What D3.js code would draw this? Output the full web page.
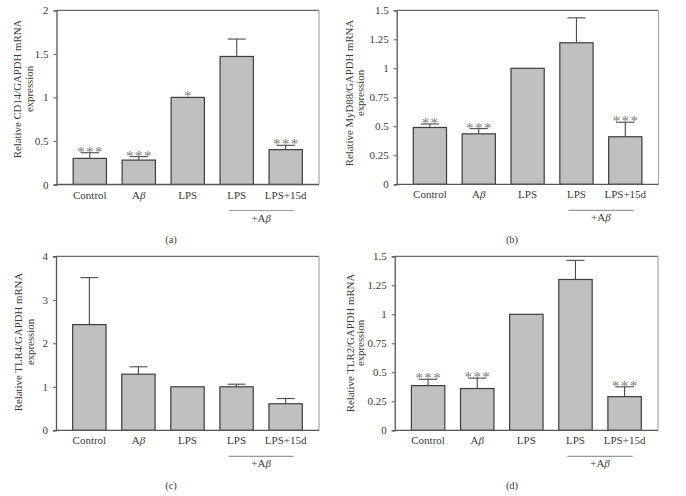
<!DOCTYPE html>
<html>
<head>
<meta charset="utf-8">
<script src="https://cdn.jsdelivr.net/npm/d3@7/dist/d3.min.js"></script>
<style>
  body { margin: 0; background: #fff; }
  svg { display: block; }
  text { font-family: "Liberation Serif", "DejaVu Serif", serif; }
</style>
</head>
<body>
<svg id="chart" width="686" height="496"></svg>
<script>
// ---- data ----
const categories = ["Control", "Aβ", "LPS", "LPS", "LPS+15d"];

const cd14Values = [0.30, 0.28, 1.00, 1.47, 0.40];
const cd14Errors = [0.065, 0.04, 0, 0.20, 0.05];
const cd14Stars  = ["***", "***", "*", "", "***"];
const cd14Ticks  = [0, 0.5, 1, 1.5, 2];

const myd88Values = [0.49, 0.435, 1.00, 1.22, 0.41];
const myd88Errors = [0.03, 0.045, 0, 0.215, 0.125];
const myd88Stars  = ["**", "***", "", "", "***"];
const myd88Ticks  = [0, 0.25, 0.5, 0.75, 1, 1.25, 1.5];

const tlr4Values = [2.43, 1.29, 1.00, 1.00, 0.61];
const tlr4Errors = [1.08, 0.17, 0, 0.06, 0.12];
const tlr4Stars  = ["", "", "", "", ""];
const tlr4Ticks  = [0, 1, 2, 3, 4];

const tlr2Values = [0.385, 0.36, 1.00, 1.30, 0.29];
const tlr2Errors = [0.055, 0.09, 0, 0.165, 0.085];
const tlr2Stars  = ["***", "***", "", "", "***"];
const tlr2Ticks  = [0, 0.25, 0.5, 0.75, 1, 1.25, 1.5];

const panelLetters = ["(a)", "(b)", "(c)", "(d)"];
const yTitles = [
  "Relative CD14/GAPDH mRNA",
  "Relative MyD88/GAPDH mRNA",
  "Relative TLR4/GAPDH mRNA",
  "Relative TLR2/GAPDH mRNA"
];
const yTitle2 = "expression";
const groupLabel = "+Aβ";

// ---- layout ----
const panels = [
  { values: cd14Values, errors: cd14Errors, stars: cd14Stars, ticks: cd14Ticks, max: 2,
    left: 56.5, right: 319, top: 10.3, bottom: 184.5, t1x: 17, t2x: 29, tcy: 89, letterX: 171 },
  { values: myd88Values, errors: myd88Errors, stars: myd88Stars, ticks: myd88Ticks, max: 1.5,
    left: 396.7, right: 658.5, top: 10.3, bottom: 184.3, t1x: 349, t2x: 360, tcy: 93, letterX: 512 },
  { values: tlr4Values, errors: tlr4Errors, stars: tlr4Stars, ticks: tlr4Ticks, max: 4,
    left: 56, right: 319, top: 256.3, bottom: 430.3, t1x: 17.5, t2x: 29.7, tcy: 342, letterX: 171 },
  { values: tlr2Values, errors: tlr2Errors, stars: tlr2Stars, ticks: tlr2Ticks, max: 1.5,
    left: 394.7, right: 658, top: 256.3, bottom: 430.3, t1x: 350, t2x: 360, tcy: 343, letterX: 512 }
];

const svg = d3.select("#chart");
const idx = categories.map((d, i) => i);

panels.forEach((p, pi) => {
  const g = svg.append("g");
  const x = d3.scaleBand().domain(idx).range([p.left, p.right])
    .paddingInner(0.32).paddingOuter(0.34);
  const y = d3.scaleLinear().domain([0, p.max]).range([p.bottom, p.top]);

  // frame top/right (lighter)
  g.append("line").attr("x1", p.left).attr("x2", p.right).attr("y1", p.top).attr("y2", p.top)
    .attr("stroke", "#6a6a6a").attr("stroke-width", 1.2);
  g.append("line").attr("x1", p.right).attr("x2", p.right).attr("y1", p.top).attr("y2", p.bottom)
    .attr("stroke", "#a8a8a8").attr("stroke-width", 1.2);

  // bars
  g.selectAll("rect.bar").data(p.values).join("rect")
    .attr("class", "bar")
    .attr("x", (d, i) => x(i))
    .attr("width", x.bandwidth())
    .attr("y", d => y(d))
    .attr("height", d => y(0) - y(d))
    .attr("fill", "#c0c0c0")
    .attr("stroke", "#3c3c3c")
    .attr("stroke-width", 1.2);

  // error bars (upper only)
  const cap = 9;
  p.values.forEach((v, i) => {
    const e = p.errors[i];
    if (e <= 0) return;
    const cx = x(i) + x.bandwidth() / 2;
    g.append("line").attr("x1", cx).attr("x2", cx).attr("y1", y(v)).attr("y2", y(v + e))
      .attr("stroke", "#4a4a4a").attr("stroke-width", 1.1);
    g.append("line").attr("x1", cx - cap).attr("x2", cx + cap).attr("y1", y(v + e)).attr("y2", y(v + e))
      .attr("stroke", "#4a4a4a").attr("stroke-width", 1.1);
  });

  // significance stars
  p.values.forEach((v, i) => {
    const s = p.stars[i];
    if (!s) return;
    const cx = x(i) + x.bandwidth() / 2;
    g.append("text").attr("x", cx + 0.7).attr("y", y(v + p.errors[i]) + 4)
      .attr("text-anchor", "middle").attr("font-size", 15).attr("letter-spacing", 1.4)
      .attr("fill", "#7a7a7a").text(s);
  });

  // y axis
  const yAxis = d3.axisLeft(y).tickValues(p.ticks).tickSize(3).tickPadding(5)
    .tickFormat(d => String(d));
  const ya = g.append("g").attr("transform", `translate(${p.left},0)`).call(yAxis);
  ya.select(".domain").attr("stroke", "#555").attr("stroke-width", 1.3);
  ya.selectAll(".tick line").attr("stroke", "#555");
  ya.selectAll(".tick text").attr("font-size", 11).attr("fill", "#3a3a3a")
    .style("font-family", '"Liberation Serif", serif');

  // x axis (baseline + labels)
  g.append("line").attr("x1", p.left).attr("x2", p.right).attr("y1", p.bottom).attr("y2", p.bottom)
    .attr("stroke", "#555").attr("stroke-width", 1.3);
  idx.forEach(i => {
    const cx = x(i) + x.bandwidth() / 2;
    const t = g.append("text").attr("x", cx).attr("y", p.bottom + 14)
      .attr("text-anchor", "middle").attr("font-size", 11).attr("fill", "#3a3a3a");
    const lab = categories[i];
    if (lab.includes("β")) {
      t.append("tspan").text(lab.replace("β", ""));
      t.append("tspan").attr("font-style", "italic").text("β");
    } else {
      t.text(lab);
    }
  });

  // group bracket line and +Aβ label
  const c3 = x(3) + x.bandwidth() / 2, c4 = x(4) + x.bandwidth() / 2;
  const lx1 = c3 - 8, lx2 = c4 + 8;
  g.append("line").attr("x1", lx1).attr("x2", lx2)
    .attr("y1", p.bottom + 26).attr("y2", p.bottom + 26)
    .attr("stroke", "#9a9a9a").attr("stroke-width", 1.2);
  const gt = g.append("text").attr("x", (lx1 + lx2) / 2).attr("y", p.bottom + 37)
    .attr("text-anchor", "middle").attr("font-size", 11).attr("fill", "#3a3a3a");
  gt.append("tspan").text(groupLabel.replace("β", ""));
  gt.append("tspan").attr("font-style", "italic").text("β");

  // y title (two lines)
  g.append("text").attr("transform", `translate(${p.t1x},${p.tcy}) rotate(-90)`)
    .attr("text-anchor", "middle").attr("dominant-baseline", "central")
    .attr("font-size", 10.8).attr("fill", "#3a3a3a").text(yTitles[pi]);
  g.append("text").attr("transform", `translate(${p.t2x},${p.tcy}) rotate(-90)`)
    .attr("text-anchor", "middle").attr("dominant-baseline", "central")
    .attr("font-size", 10.8).attr("fill", "#3a3a3a").text(yTitle2);

  // panel letter
  g.append("text").attr("x", p.letterX).attr("y", p.bottom + 58.5)
    .attr("text-anchor", "middle").attr("font-size", 10.5).attr("fill", "#3a3a3a")
    .text(panelLetters[pi]);
});
</script>
</body>
</html>
